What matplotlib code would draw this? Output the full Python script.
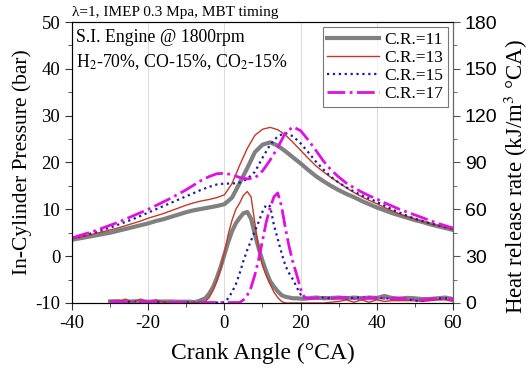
import matplotlib
matplotlib.use("Agg")
import matplotlib.pyplot as plt
from matplotlib.ticker import MultipleLocator

plt.rcParams['font.family'] = ['Liberation Serif', 'DejaVu Serif']
plt.rcParams['mathtext.fontset'] = 'stix'
plt.rcParams['axes.unicode_minus'] = False

labels = ['C.R.=11', 'C.R.=13', 'C.R.=15', 'C.R.=17']
colors = ['#808080', '#c0392b', '#1c1c9c', '#e010e0']
styles = ['-', '-', ':', '-.']
widths = [3.0, 1.0, 1.6, 2.0]

# in-cylinder pressure (bar), every 2 deg from -40 to 60
p_angle = list(range(-40, 61, 2))
p_cr11 = [3.5, 3.8, 4.1, 4.4, 4.7, 5.0, 5.4, 5.8, 6.2, 6.6, 7.0, 7.5, 7.9, 8.4, 8.9,
          9.4, 9.8, 10.1, 10.4, 10.7, 11.1, 12.5, 15.6, 18.8, 22.2, 23.8, 24.3, 23.6,
          22.4, 21.1, 19.8, 18.4, 17.1, 16.0, 15.0, 14.1, 13.3, 12.6, 11.8, 11.1, 10.4,
          9.8, 9.2, 8.7, 8.2, 7.7, 7.3, 6.8, 6.4, 6.0, 5.6]
p_cr13 = [3.7, 4.0, 4.4, 4.8, 5.2, 5.6, 6.0, 6.5, 7.0, 7.5, 8.1, 8.6, 9.1, 9.7, 10.3,
          10.9, 11.4, 11.8, 12.1, 12.5, 13.1, 15.5, 19.4, 23.0, 25.8, 27.1, 27.5, 27.0,
          25.9, 24.3, 22.6, 20.9, 19.3, 18.0, 16.8, 15.7, 14.6, 13.6, 12.7, 11.9, 11.2,
          10.4, 9.7, 9.0, 8.4, 7.9, 7.4, 6.9, 6.5, 6.1, 5.7]
p_cr15 = [3.8, 4.2, 4.6, 5.1, 5.6, 6.1, 6.7, 7.3, 7.9, 8.6, 9.3, 10.0, 10.7, 11.4, 12.1,
          12.8, 13.5, 14.2, 14.8, 15.3, 15.5, 15.5, 15.7, 16.5, 18.0, 21.0, 23.8, 25.6,
          26.3, 25.6, 24.1, 22.2, 20.2, 18.5, 16.9, 15.7, 14.7, 13.8, 13.0, 12.3, 11.6,
          10.8, 10.0, 9.3, 8.6, 8.0, 7.5, 7.0, 6.6, 6.2, 5.8]
p_cr17 = [3.9, 4.4, 4.9, 5.4, 6.0, 6.6, 7.2, 7.9, 8.6, 9.3, 10.0, 10.8, 11.6, 12.4, 13.3,
          14.2, 15.2, 16.2, 17.0, 17.6, 17.7, 17.4, 16.8, 16.5, 16.7, 18.2, 20.5, 23.2,
          26.3, 27.6, 26.8, 24.8, 22.6, 20.3, 18.4, 16.9, 15.6, 14.6, 13.7, 12.9, 12.2,
          11.4, 10.7, 10.0, 9.4, 8.8, 8.2, 7.6, 7.0, 6.5, 6.0]

# heat release rate (kJ/m3 degCA)
h_angle = list(range(-30, -9, 2)) + list(range(-9, 23)) + list(range(24, 61, 2))
h_cr11 = [1.0, 1.2, 0.8, 1.0, 1.2, 0.8, 1.0, 0.9, 1.0, 0.8, 0.8,
          0.8, 0.5, 1.0, 2.0, 3.0, 6.0, 10.0, 16.0, 23.0, 31.0, 39.0, 46.0, 51.0, 54.5,
          57.5, 58.3, 54.0, 44.0, 35.0, 27.0, 20.0, 14.0, 10.5, 7.5, 5.0, 4.0, 3.5, 3.0,
          3.0, 2.8, 2.7, 3.0,
          3.5, 3.0, 3.2, 3.5, 3.0, 3.5, 3.0, 3.5, 3.2, 4.5, 3.2, 2.8, 3.3, 3.0, 2.5,
          2.6, 3.0, 3.5, 2.5]
h_cr13 = [1.5, 0.5, 2.5, 0.5, 2.5, 0.5, 2.0, 0.5, 0.5, 0.3, 0.3,
          0.2, 0.2, 0.2, 0.2, 1.0, 3.5, 8.0, 14.0, 22.0, 32.0, 44.0, 53.0, 60.0, 64.0,
          69.0, 71.4, 68.0, 51.0, 35.0, 24.0, 17.5, 12.0, 7.0, 3.5, 1.0, 0.0, 0.0, 0.0,
          0.0, 0.0, 0.0, 0.0,
          0.0, 0.0, 0.5, 1.0, 2.0, 0.5, 2.0, 0.5, 2.0, 1.0, 1.5, 1.5, 1.5, 1.5, 1.0,
          1.5, 2.0, 2.0, 1.0]
h_cr15 = [0.5, 0.8, 0.6, 1.0, 0.5, 0.8, 0.6, 0.5, 0.5, 0.4, 0.4,
          0.3, 0.3, 0.3, 0.3, 0.3, 0.3, 0.3, 0.3, 0.3, 0.5, 3.0, 7.0, 12.0, 19.0,
          27.0, 34.0, 40.0, 46.0, 52.0, 58.5, 63.0, 62.0, 50.0, 41.0, 32.0, 24.0, 19.0,
          15.0, 10.0, 5.5, 3.5, 3.0,
          3.2, 3.5, 3.0, 3.4, 3.0, 3.3, 3.6, 3.4, 3.2, 3.0, 2.8, 3.0, 2.5, 1.5, 1.5,
          2.2, 2.8, 3.0, 2.5]
h_cr17 = [0.8, 1.0, 0.5, 0.8, 1.0, 0.6, 0.8, 0.5, 0.5, 0.4, 0.4,
          0.3, 0.3, 0.3, 0.3, 0.3, 0.3, 0.3, 0.3, 0.3, 0.3, 0.3, 0.3, 0.3, 0.3,
          2.0, 5.0, 10.0, 18.0, 28.0, 40.0, 52.0, 61.0, 68.0, 70.5, 62.0, 48.0, 36.0,
          26.0, 18.0, 9.0, 3.5, 3.0,
          3.0, 3.5, 3.0, 3.2, 3.5, 2.8, 3.2, 3.0, 3.3, 3.0, 2.8, 3.0, 2.5, 2.0, 2.0,
          2.5, 3.0, 2.8, 2.3]

pressures = [p_cr11, p_cr13, p_cr15, p_cr17]
hrrs = [h_cr11, h_cr13, h_cr15, h_cr17]

fig = plt.figure(figsize=(5.31, 3.71), dpi=100)
ax = fig.add_axes([0.1356, 0.1833, 0.7175, 0.7574])
ax2 = ax.twinx()

for x in [-20, 0, 20, 40]:
    ax.axvline(x, color='#dcdcdc', lw=0.8, zorder=0)

handles = []
for p, h, lab, c, ls, lw in zip(pressures, hrrs, labels, colors, styles, widths):
    line, = ax.plot(p_angle, p, color=c, ls=ls, lw=lw, label=lab)
    ax2.plot(h_angle, h, color=c, ls=ls, lw=lw)
    handles.append(line)

ax.set_xlim(-40, 60)
ax.set_ylim(-10, 50)
ax2.set_ylim(0, 180)

ax.xaxis.set_major_locator(MultipleLocator(20))
ax.xaxis.set_minor_locator(MultipleLocator(10))
ax.yaxis.set_major_locator(MultipleLocator(10))
ax.yaxis.set_minor_locator(MultipleLocator(5))
ax2.yaxis.set_major_locator(MultipleLocator(30))
ax2.yaxis.set_minor_locator(MultipleLocator(15))

ax.tick_params(which='both', direction='out', labelsize=13.5, color='#333333')
ax.tick_params(which='major', length=5)
ax.tick_params(which='minor', length=3)
ax2.tick_params(which='both', direction='out', color='#555555')
ax2.tick_params(which='major', length=5)
ax2.tick_params(which='minor', length=3)
for t in ax2.get_yticklabels():
    t.set_family('Liberation Sans')
    t.set_fontsize(14)
for sp in ax.spines.values():
    sp.set_color('#333333')
ax2.spines['right'].set_color('#666666')

ax.set_xlabel('Crank Angle (°CA)', fontsize=17, labelpad=8)
ax.set_ylabel('In-Cylinder Pressure (bar)', fontsize=15.5, labelpad=2)
ax2.set_ylabel('Heat release rate (kJ/m$^3$ °CA)', fontsize=16.5)
ax2.yaxis.set_label_coords(1.128, 0.45)

ax.text(0.0, 1.012, 'λ=1, IMEP 0.3 Mpa, MBT timing', transform=ax.transAxes,
        fontsize=11, ha='left', va='bottom')
ax.text(0.01, 0.975, 'S.I. Engine @ 1800rpm', transform=ax.transAxes,
        fontsize=12.8, ha='left', va='top')
ax.text(0.01, 0.893, 'H$_2$-70%, CO-15%, CO$_2$-15%', transform=ax.transAxes,
        fontsize=12.8, ha='left', va='top')

leg = ax2.legend(handles, labels, loc='upper right', fontsize=12.5, frameon=True,
                 fancybox=False, edgecolor='#555555', handlelength=3.0,
                 borderaxespad=0.3, labelspacing=0.12, handletextpad=0.3,
                 borderpad=0.25)
leg.get_frame().set_linewidth(0.8)

fig.savefig('out.png', dpi=100)
